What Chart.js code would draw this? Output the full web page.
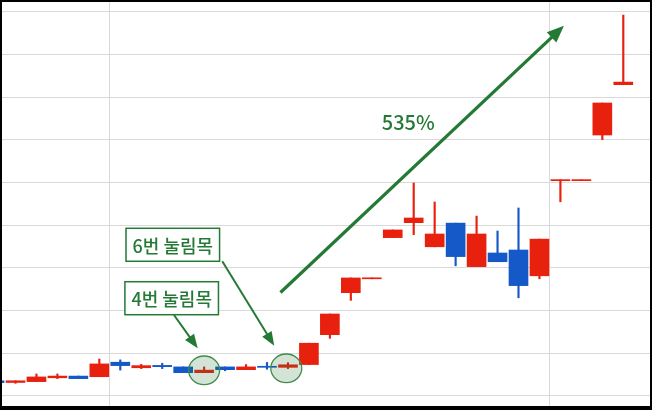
<!DOCTYPE html>
<html>
<head>
<meta charset="utf-8">
<script src="https://cdn.jsdelivr.net/npm/chart.js@4.4.1/dist/chart.umd.min.js"></script>
<style>
html, body { margin: 0; padding: 0; background: #fff; }
#wrap { position: relative; width: 652px; height: 410px; }
</style>
</head>
<body>
<div id="wrap"><canvas id="chart" width="652" height="410"></canvas></div>
<script>
// trading day index (0 = first day, partly cut off on the left)
const days   = [0,1,2,3,4,5,6,7,8,9,10,11,12,13,14,15,16,17,18,19,20,21,22,23,24,25,26,27,28,29,30];
const opens  = [1350,1310,1330,1420,1460,1445,1785,1655,1710,1675,1540,1675,1610,1690,1665,1730,2430,3415,3740,4705,5055,4490,5045,4025,4345,4415,3810,6040,6040,7110,8290];
const highs  = [1350,1350,1510,1510,1460,1860,1840,1735,1760,1675,1675,1675,1730,1780,1775,2230,2915,3760,3760,4885,5985,5540,5045,5210,4860,5400,4670,6060,6060,7860,9920];
const lows   = [1305,1290,1330,1400,1400,1445,1600,1635,1635,1540,1540,1585,1610,1620,1635,1730,2345,3235,3740,4705,4775,4490,4045,4025,4140,3295,3740,5545,6040,7000,8290];
const closes = [1305,1350,1440,1460,1400,1745,1705,1705,1680,1540,1600,1610,1675,1665,1725,2230,2915,3760,3760,4885,5165,4790,4260,4790,4140,3580,4670,6060,6060,7860,8350];

// grid: month breaks on x, price lines on y
const monthTicks = [5.5, 26.5];
const priceTicks = [1000,2000,3000,4000,5000,6000,7000,8000,9000,10000];

const RED = '#e8200e';
const BLUE = '#1559c9';
const GREEN = '#247a35';

const candleColor = ctx => closes[ctx.dataIndex] >= opens[ctx.dataIndex] ? RED : BLUE;

// annotations, anchored in data coordinates
const callouts = [
  { text: '6번 눌림목', x: 8.505, y: 4537, from: [10.866, 4150], to: [13.347, 2172] },
  { text: '4번 눌림목', x: 8.452, y: 3285, from: [8.562, 2891], to: [9.693, 2111] }
];
const pullbacks = [ { x: 10, y: 1595 }, { x: 13.92, y: 1642 } ];
const trendArrow = { from: [13.643, 3419], to: [27.169, 9671] };
const trendLabel = { text: '535%', x: 19.74, y: 7403 };

function arrow(ctx, x1, y1, x2, y2, width, headLen, headW) {
  const a = Math.atan2(y2 - y1, x2 - x1);
  ctx.lineWidth = width;
  ctx.beginPath();
  ctx.moveTo(x1, y1);
  ctx.lineTo(x2 - Math.cos(a) * headLen * 0.8, y2 - Math.sin(a) * headLen * 0.8);
  ctx.stroke();
  ctx.beginPath();
  ctx.moveTo(x2, y2);
  ctx.lineTo(x2 - Math.cos(a) * headLen + Math.sin(a) * headW, y2 - Math.sin(a) * headLen - Math.cos(a) * headW);
  ctx.lineTo(x2 - Math.cos(a) * headLen - Math.sin(a) * headW, y2 - Math.sin(a) * headLen + Math.cos(a) * headW);
  ctx.closePath();
  ctx.fill();
}

const notes = {
  id: 'notes',
  afterDatasetsDraw(chart) {
    const ctx = chart.ctx;
    const sx = chart.scales.x, sy = chart.scales.y;
    const px = v => sx.getPixelForValue(v), py = v => sy.getPixelForValue(v);
    ctx.save();

    // circles around the pullbacks
    pullbacks.forEach(p => {
      ctx.beginPath();
      ctx.ellipse(px(p.x), py(p.y), 15.5, 14.3, 0, 0, Math.PI * 2);
      ctx.fillStyle = 'rgba(36,122,53,0.2)';
      ctx.fill();
      ctx.lineWidth = 1.3;
      ctx.strokeStyle = '#3f8c4c';
      ctx.stroke();
    });

    ctx.strokeStyle = GREEN;
    ctx.fillStyle = GREEN;
    ctx.lineCap = 'butt';

    // callout boxes + arrows
    ctx.font = '500 18px "Noto Sans CJK KR"';
    ctx.textAlign = 'center';
    ctx.textBaseline = 'middle';
    callouts.forEach(c => {
      arrow(ctx, px(c.from[0]), py(c.from[1]), px(c.to[0]), py(c.to[1]), 2, 14, 5.5);
      const w = ctx.measureText(c.text).width + 13, h = 33;
      const cx = px(c.x), cy = py(c.y);
      ctx.fillStyle = '#fff';
      ctx.fillRect(cx - w / 2, cy - h / 2, w, h);
      ctx.lineWidth = 1.5;
      ctx.strokeRect(cx - w / 2, cy - h / 2, w, h);
      ctx.fillStyle = GREEN;
      ctx.fillText(c.text, cx, cy + 1);
    });

    // big trend arrow
    arrow(ctx, px(trendArrow.from[0]), py(trendArrow.from[1]), px(trendArrow.to[0]), py(trendArrow.to[1]), 3.2, 17, 7);
    ctx.font = '500 20px "Noto Sans CJK KR"';
    ctx.fillText(trendLabel.text, px(trendLabel.x), py(trendLabel.y));

    // black frame
    ctx.fillStyle = '#000';
    const W = chart.width, H = chart.height;
    ctx.fillRect(0, 0, W, 2);
    ctx.fillRect(0, 0, 2, H);
    ctx.fillRect(W - 2, 0, 2, H);
    ctx.fillRect(0, H - 4, W, 4);
    ctx.restore();
  }
};

const gridOpts = { color: '#d9d9d9', lineWidth: 1, drawTicks: false, offset: false };

new Chart(document.getElementById('chart'), {
  type: 'bar',
  data: {
    datasets: [
      {
        label: 'body',
        data: days.map((d, i) => ({ x: d, y: [opens[i], closes[i]] })),
        backgroundColor: candleColor,
        barThickness: 19,
        minBarLength: 1,
        grouped: false,
        order: 1
      },
      {
        label: 'wick',
        data: days.map((d, i) => ({ x: d, y: [lows[i], highs[i]] })),
        backgroundColor: candleColor,
        barThickness: 1.5,
        grouped: false,
        order: 2
      }
    ]
  },
  options: {
    responsive: false,
    animation: false,
    layout: { padding: 0 },
    plugins: { legend: { display: false }, tooltip: { enabled: false } },
    scales: {
      x: {
        type: 'linear', min: 0.2605, max: 31.37, offset: false,
        grid: gridOpts, border: { display: false }, ticks: { display: false },
        afterBuildTicks: s => { s.ticks = monthTicks.map(v => ({ value: v })); }
      },
      y: {
        type: 'linear', min: 665, max: 10274,
        grid: gridOpts, border: { display: false }, ticks: { display: false },
        afterBuildTicks: s => { s.ticks = priceTicks.map(v => ({ value: v })); }
      }
    }
  },
  plugins: [notes]
});
</script>
</body>
</html>
